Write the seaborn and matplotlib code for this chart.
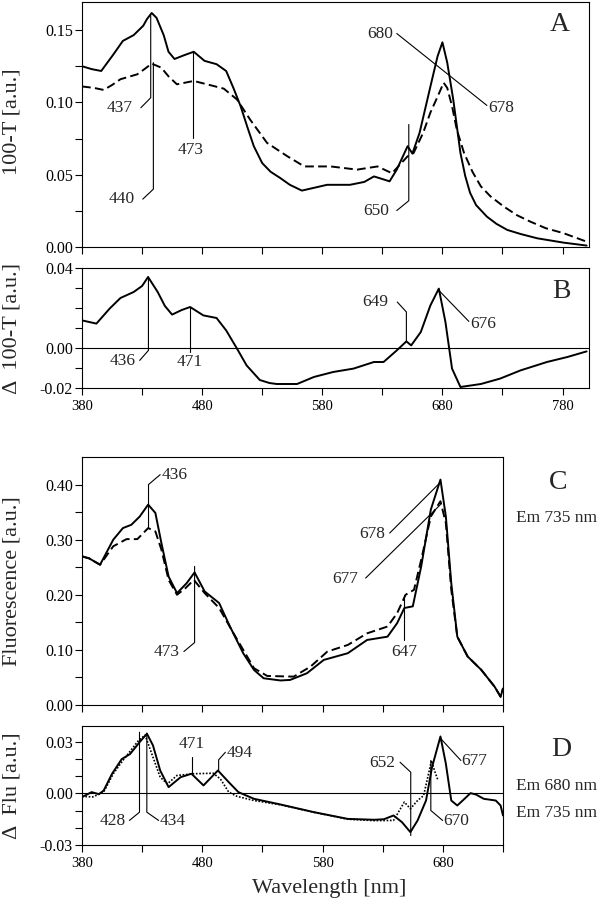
import matplotlib
matplotlib.use('Agg')
import matplotlib.pyplot as plt
from matplotlib.ticker import FixedLocator, FormatStrFormatter, NullFormatter
import seaborn as sns

sns.set_theme(style='ticks')
plt.rcParams['font.family'] = ['Liberation Serif', 'DejaVu Serif']
plt.rcParams['axes.unicode_minus'] = False

# panel A: 100-T spectra (solid / dashed)
wl_a_solid = [380, 388, 396, 406, 414, 423, 431, 434, 438, 442, 448, 452, 457, 465, 473, 482,
              492, 500, 506, 512, 518, 523, 530, 537, 545, 553, 563, 584, 603, 615, 623, 630,
              636, 642, 651, 655, 661, 670, 676, 680, 684, 689, 695, 699, 703, 708, 717, 725,
              734, 745, 759, 781, 800]
a_solid = [0.125, 0.123, 0.1217, 0.133, 0.1425, 0.1465, 0.153, 0.1575, 0.1618, 0.1585, 0.1465,
           0.135, 0.130, 0.1326, 0.135, 0.1287, 0.1264, 0.1217, 0.110, 0.0974, 0.082, 0.0697,
           0.058, 0.052, 0.0477, 0.043, 0.039, 0.043, 0.043, 0.045, 0.0488, 0.047, 0.0454,
           0.0535, 0.0697, 0.0646, 0.079, 0.111, 0.132, 0.1415, 0.1275, 0.102, 0.065, 0.049,
           0.0375, 0.029, 0.021, 0.016, 0.0118, 0.009, 0.006, 0.003, 0.001]
wl_a_dash = [380, 390, 398, 405, 412, 426, 432, 438, 446, 452, 459, 473, 484, 498, 509, 520,
             534, 551, 565, 587, 609, 626, 638, 651, 656, 664, 670, 676, 681, 684, 688, 692,
             698, 705, 712, 720, 731, 742, 753, 766, 781, 800]
a_dash = [0.111, 0.110, 0.1086, 0.112, 0.116, 0.1194, 0.123, 0.1268, 0.124, 0.118, 0.1125,
          0.1148, 0.1125, 0.1095, 0.102, 0.088, 0.072, 0.0627, 0.0557, 0.0557, 0.0535, 0.0557,
          0.051, 0.0627, 0.065, 0.079, 0.093, 0.104, 0.1136, 0.110, 0.0974, 0.081, 0.065,
          0.052, 0.0419, 0.035, 0.028, 0.022, 0.0176, 0.013, 0.0095, 0.0037]

# panel B: difference spectrum
wl_b = [380, 392, 403, 412, 423, 430, 435, 443, 449, 455, 463, 470, 481, 492, 500, 509, 517,
        528, 536, 542, 559, 573, 589, 606, 623, 631, 642, 650, 654, 662, 670, 677, 682.5, 688,
        695, 712, 728, 745, 767, 784, 800]
b_diff = [0.0138, 0.0122, 0.0197, 0.025, 0.028, 0.031, 0.0355, 0.028, 0.021, 0.0167, 0.019,
          0.0205, 0.0163, 0.015, 0.0088, -0.0003, -0.0087, -0.016, -0.0175, -0.018, -0.018,
          -0.0145, -0.012, -0.0103, -0.007, -0.007, -0.0012, 0.0033, 0.0013, 0.008, 0.0213,
          0.0297, 0.013, -0.0103, -0.0195, -0.018, -0.0153, -0.0112, -0.007, -0.0045, -0.0017]

# panel C: fluorescence excitation, Em 735 nm
wl_c_solid = [380, 386, 395, 406, 414, 421, 428, 435, 441, 446, 452, 459, 467, 473.6, 482,
              494, 503, 514, 523, 531, 545, 553, 567, 581, 601, 617, 634, 642, 648, 655, 662,
              670, 678, 682.5, 687, 692, 700.6, 712, 723, 728, 730]
c_solid = [0.2697, 0.266, 0.2545, 0.300, 0.321, 0.327, 0.342, 0.3636, 0.3485, 0.294, 0.233,
           0.203, 0.221, 0.2406, 0.206, 0.185, 0.1424, 0.094, 0.0636, 0.0485, 0.0445, 0.0455,
           0.0576, 0.0818, 0.094, 0.118, 0.124, 0.1485, 0.176, 0.179, 0.2515, 0.3545, 0.409,
           0.342, 0.221, 0.124, 0.088, 0.0636, 0.0333, 0.015, 0.030]
wl_c_dash = [380, 386, 395, 406, 417, 426, 435, 441, 446, 452, 459, 466, 473, 482, 494, 506,
             523, 534, 556, 570, 584, 601, 617, 634, 642, 649, 656, 662, 670, 678, 682.5, 687,
             692, 700.6, 712, 723, 728, 730]
c_dash = [0.2697, 0.266, 0.2545, 0.288, 0.301, 0.301, 0.321, 0.315, 0.282, 0.227, 0.200,
          0.212, 0.227, 0.203, 0.176, 0.130, 0.0667, 0.0527, 0.0515, 0.0697, 0.097, 0.109,
          0.130, 0.1424, 0.1667, 0.200, 0.209, 0.2636, 0.342, 0.3697, 0.330, 0.209, 0.124,
          0.088, 0.0636, 0.0333, 0.015, 0.030]

# panel D: fluorescence difference spectra (Em 735 solid, Em 680 dotted)
wl_d_solid = [380, 388, 394, 398, 405, 413, 420, 428, 434, 439, 445, 452, 462, 471, 481, 493,
              502, 510, 523, 545, 573, 601, 623, 631, 639, 646, 653, 659, 666, 671, 678, 682.5,
              687, 692, 698, 703, 707.5, 714, 724, 728, 730]
d_solid = [-0.0021, 0.0008, -0.0004, 0.0017, 0.0115, 0.020, 0.023, 0.030, 0.0348, 0.028,
           0.0134, 0.0037, 0.0095, 0.0115, 0.0047, 0.0134, 0.0066, 0.0008, -0.0031, -0.0064,
           -0.0109, -0.0148, -0.0153, -0.015, -0.0128, -0.0167, -0.0225, -0.0157, -0.0041,
           0.0153, 0.0332, 0.0173, -0.0041, -0.007, -0.0031, 0.0002, -0.0006, -0.0031, -0.0041,
           -0.007, -0.0128]
wl_d_dot = [380, 389, 398, 406, 414, 427, 432.5, 438, 445, 451, 459, 473, 489, 495, 502, 509,
            523, 545, 573, 601, 623, 639, 648, 653, 659, 664, 670.6, 673, 676]
d_dot = [-0.0017, -0.002, 0.0008, 0.0115, 0.0192, 0.0309, 0.034, 0.0231, 0.0095, 0.0056,
         0.0105, 0.0115, 0.0118, 0.0085, 0.0008, -0.0017, -0.0041, -0.0066, -0.011, -0.015,
         -0.0158, -0.0157, -0.005, -0.0089, -0.0041, -0.0012, 0.0192, 0.0134, 0.0076]

W, H = 600, 907
fig = plt.figure(figsize=(W / 100, H / 100), dpi=100)


def axes_px(left, top, right, bottom):
    return fig.add_axes([left / W, 1 - bottom / H, (right - left) / W, (bottom - top) / H])


def draw(ax, wl, val, ls, lw=1.4):
    sns.lineplot(x=wl, y=val, ax=ax, color='black', linewidth=lw, estimator=None)
    ax.lines[-1].set_linestyle(ls)


def mark(ax, label, pts, tx, ty, ha):
    xs = [p[0] for p in pts]
    ys = [p[1] for p in pts]
    ax.plot(xs, ys, color='black', lw=0.8)
    ax.text(tx, ty, label, ha=ha, va='center', fontsize=12.5)


def style(ax, xmax, xmajor, xminor, xlabels, ymajor, yminor, ylim, yfmt):
    ax.set_xlim(380, xmax)
    ax.set_ylim(*ylim)
    ax.xaxis.set_major_locator(FixedLocator(xmajor))
    ax.xaxis.set_minor_locator(FixedLocator(xminor))
    ax.yaxis.set_major_locator(FixedLocator(ymajor))
    ax.yaxis.set_minor_locator(FixedLocator(yminor))
    ax.yaxis.set_major_formatter(FormatStrFormatter(yfmt))
    if not xlabels:
        ax.xaxis.set_major_formatter(NullFormatter())
    ax.set_xlabel('')
    ax.set_ylabel('')
    ax.tick_params(which='both', direction='out', length=5, width=0.8, color='black',
                   labelsize=10.5, labelcolor='black')
    ax.tick_params(axis='y', which='both', pad=1.5, labelsize=11.5)
    for s in ax.spines.values():
        s.set_visible(True)
        s.set_linewidth(0.8)
        s.set_color('black')
    ax.set_facecolor('white')


# ---- A
axA = axes_px(82, 2, 589, 247)
draw(axA, wl_a_dash, a_dash, (0, (4.5, 2.2)))
draw(axA, wl_a_solid, a_solid, '-')
style(axA, 802, [380, 480, 580, 680, 780], [430, 530, 630, 730], False,
      [0, 0.05, 0.10, 0.15], [0.025, 0.075, 0.125], (0, 0.1694), '%.2f')
mark(axA, '437', [(437.2, 0.160), (437.2, 0.1032), (429, 0.0963)], 422.5, 0.0961, 'right')
mark(axA, '440', [(439.4, 0.1275), (439.4, 0.040), (430.6, 0.0331)], 424.3, 0.0331, 'right')
mark(axA, '473', [(472.8, 0.135), (472.8, 0.0755)], 470.8, 0.0669, 'center')
mark(axA, '650', [(652, 0.0847), (652, 0.032), (642, 0.0252)], 636, 0.025, 'right')
mark(axA, '680', [(642, 0.1476), (717, 0.0979)], 639, 0.1476, 'right')
axA.text(718.5, 0.0963, '678', ha='left', va='center', fontsize=12.5)
axA.text(778, 0.154, 'A', ha='center', va='center', fontsize=20)

# ---- B
axB = axes_px(82, 268, 589, 388)
axB.axhline(0, color='black', lw=0.8)
draw(axB, wl_b, b_diff, '-')
style(axB, 802, [380, 480, 580, 680, 780], [430, 530, 630, 730], True,
      [-0.02, 0.0, 0.04], [-0.01, 0.01, 0.02, 0.03], (-0.02, 0.04), '%.2f')
mark(axB, '436', [(435.3, 0.0355), (435.3, -0.0012), (428, -0.0062)], 424.4, -0.0063, 'right')
mark(axB, '471', [(470, 0.0205), (470, -0.002)], 469.5, -0.0068, 'center')
mark(axB, '649', [(650, 0.0033), (650, 0.018), (642.4, 0.023)], 635, 0.023, 'right')
mark(axB, '676', [(677, 0.0288), (702, 0.0133)], 703, 0.0119, 'left')
axB.text(779.4, 0.028, 'B', ha='center', va='center', fontsize=20)

# ---- C
axC = axes_px(82, 457, 503, 705)
draw(axC, wl_c_dash, c_dash, (0, (4.5, 2.2)))
draw(axC, wl_c_solid, c_solid, '-')
style(axC, 730, [380, 480, 580, 680], [430, 530, 630, 730], False,
      [0, 0.1, 0.2, 0.3, 0.4], [0.05, 0.15, 0.25, 0.35], (0, 0.45), '%.2f')
mark(axC, '436', [(435.3, 0.321), (435.3, 0.40), (445, 0.418)], 446, 0.418, 'left')
mark(axC, '473', [(473.6, 0.2515), (473.6, 0.1133), (464.7, 0.097)], 461.4, 0.0958, 'right')
mark(axC, '647', [(648, 0.2), (648, 0.118)], 647.5, 0.0958, 'center')
mark(axC, '678', [(635.8, 0.312), (677.5, 0.403)], 631.7, 0.311, 'right')
mark(axC, '677', [(615.8, 0.2303), (678, 0.3636)], 609.4, 0.229, 'right')

# ---- D
axD = axes_px(82, 726, 503, 845)
axD.axhline(0, color='black', lw=0.8)
draw(axD, wl_d_dot, d_dot, (0, (1, 1)), lw=1.2)
draw(axD, wl_d_solid, d_solid, '-')
style(axD, 730, [380, 480, 580, 680], [430, 530, 630, 730], True,
      [-0.03, 0.0, 0.03], [-0.02, -0.01, 0.01, 0.02], (-0.03, 0.0393), '%.2f')
mark(axD, '428', [(427.8, 0.0357), (427.8, -0.0109), (419.4, -0.0157)], 416, -0.016, 'right')
mark(axD, '434', [(433.9, 0.0352), (433.9, -0.0109), (443.7, -0.0157)], 444.5, -0.016, 'left')
mark(axD, '471', [(471.4, 0.0115), (471.4, 0.0211)], 470.8, 0.029, 'center')
mark(axD, '494', [(493.6, 0.0134), (493.6, 0.0196), (499.2, 0.024)], 500, 0.0236, 'left')
mark(axD, '652', [(653.3, -0.0245), (653.3, 0.0124), (644.4, 0.0182)], 640.8, 0.018, 'right')
mark(axD, '670', [(670, 0.0192), (670, -0.0099), (679.8, -0.0157)], 680.6, -0.016, 'left')
mark(axD, '677', [(678.3, 0.0319), (695, 0.0192)], 695.6, 0.0189, 'left')


# ---- labels outside the axes
def ftext(x, y, s, **kw):
    fig.text(x / W, 1 - y / H, s, ha='center', va='center', **kw)


ftext(12, 122, '100-T [a.u.]', rotation=90, fontsize=16)
ftext(12, 328, 'Δ  100-T [a.u.]', rotation=90, fontsize=16)
ftext(12, 581, 'Fluorescence [a.u.]', rotation=90, fontsize=16)
ftext(12, 786, 'Δ  Flu [a.u.]', rotation=90, fontsize=16)
ftext(329, 889, 'Wavelength [nm]', fontsize=16)
ftext(558, 483, 'C', fontsize=20)
ftext(557, 518, 'Em 735 nm', fontsize=12.5)
ftext(561, 750, 'D', fontsize=20)
ftext(557, 786, 'Em 680 nm', fontsize=12.5)
ftext(557, 813, 'Em 735 nm', fontsize=12.5)

fig.savefig('out.png', dpi=100, facecolor='white')
